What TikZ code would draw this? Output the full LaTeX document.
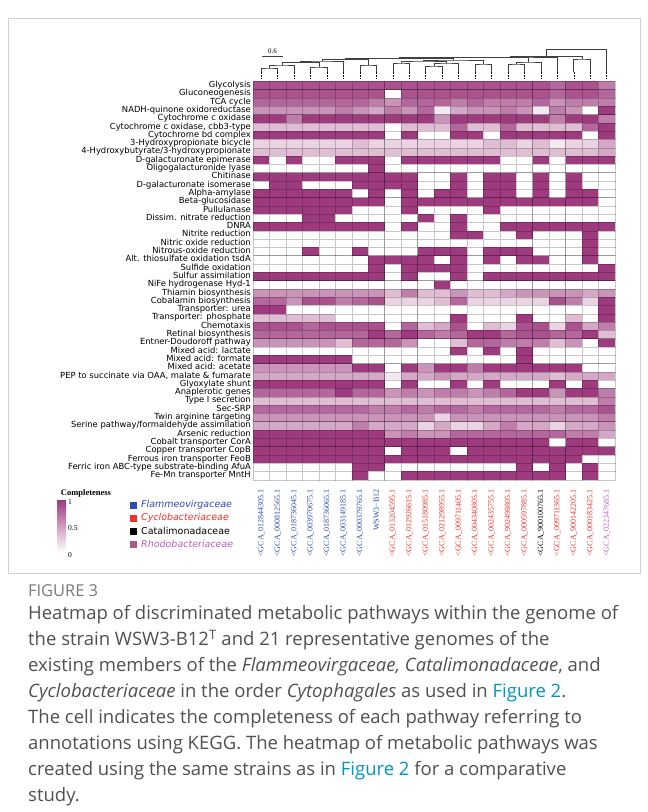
\documentclass[tikz,border=0pt]{standalone}
\usepackage{fontspec}
\setmainfont{Liberation Serif}
\setsansfont{DejaVu Sans}
\newfontfamily\capfont{Open Sans}
\usetikzlibrary{positioning}

\definecolor{heat}{RGB}{158,58,126}
\definecolor{flamblue}{RGB}{45,75,185}
\definecolor{cycred}{RGB}{238,50,40}
\definecolor{rhodo}{RGB}{185,95,185}
\definecolor{capgray}{RGB}{80,80,80}
\definecolor{figgray}{RGB}{120,120,120}
\definecolor{linkteal}{RGB}{0,150,195}

\begin{document}
\begin{tikzpicture}[x=1pt, y=-1pt,
    rowlab/.style={anchor=east, inner sep=0pt, text height=6pt, text depth=1.8pt,
      font=\sffamily\fontsize{8.4}{9}\selectfont},
    collab/.style={anchor=east, rotate=90, inner sep=0pt, font=\fontsize{8}{8}\selectfont},
    cell/.style={draw=black, draw opacity=0.22, line width=0.35pt},
    leafline/.style={densely dotted, line width=0.5pt},
    treeline/.style={line width=0.6pt, black!75},
    famlab/.style={anchor=west, inner sep=0pt, font=\sffamily\fontsize{9.5}{10}\selectfont},
    ticklab/.style={anchor=west, inner sep=0pt, font=\fontsize{7.5}{8}\selectfont}]

    \useasboundingbox (0,0) rectangle (648,812);
    \draw [black!18, line width=0.6pt] (8,18) rectangle (640,573);

    % heatmap rows: name / completeness (0 = empty ... 9 = complete)
    \foreach \name/\vals [count=\r] in {
      {Glycolysis}/{8,8,8,8,8,8,8,8,8,8,8,8,8,8,8,8,8,8,7,8,8,6},
      {Gluconeogenesis}/{8,8,8,8,8,8,8,8,0,8,8,8,8,8,8,8,8,8,7,8,8,7},
      {TCA cycle}/{7,7,7,7,7,7,7,6,5,7,7,7,6,7,6,6,6,7,5,6,6,6},
      {NADH-quinone oxidoreductase}/{5,5,5,5,5,6,5,4,6,5,7,1,4,5,5,6,5,1,6,5,0,9},
      {Cytochrome c oxidase}/{9,9,6,9,9,9,9,9,9,9,9,5,9,9,9,9,9,9,6,9,9,6},
      {Cytochrome c oxidase, cbb3-type}/{3,3,3,3,3,3,3,3,0,3,3,3,7,3,3,7,3,3,3,3,7,9},
      {Cytochrome bd complex}/{9,9,9,9,9,9,9,9,0,9,0,0,9,9,0,9,9,9,9,9,0,9},
      {3-Hydroxypropionate bicycle}/{2,2,2,2,2,2,3,2,2,2,2,2,2,2,3,3,2,3,1,2,2,4},
      {4-Hydroxybutyrate/3-hydroxypropionate}/{3,3,3,3,3,3,3,3,3,3,3,3,3,3,3,3,3,3,3,3,3,4},
      {D-galacturonate epimerase}/{9,0,9,0,0,9,9,9,0,9,9,9,9,9,9,0,0,9,0,9,9,9},
      {Oligogalacturonide lyase}/{0,0,0,0,0,0,0,9,0,0,0,0,0,0,0,0,0,0,0,0,0,0},
      {Chitinase}/{9,9,9,9,9,9,9,9,9,9,0,0,9,0,9,9,0,9,0,9,0,0},
      {D-galacturonate isomerase}/{0,9,9,0,0,0,9,9,9,9,0,0,9,0,9,9,0,9,0,9,0,0},
      {Alpha-amylase}/{9,9,9,9,9,9,0,9,0,9,0,9,9,0,9,9,0,9,0,9,9,0},
      {Beta-glucosidase}/{9,9,9,9,9,9,9,9,0,9,9,9,9,9,9,9,9,9,9,9,9,0},
      {Pullulanase}/{9,9,9,9,9,9,0,0,0,9,0,0,0,0,9,0,0,0,0,0,0,0},
      {Dissim. nitrate reduction}/{0,0,0,9,9,0,0,0,0,0,9,0,9,0,0,0,0,0,0,0,0,0},
      {DNRA}/{9,9,9,9,9,9,9,9,0,9,0,0,9,0,0,9,9,9,9,9,9,9},
      {Nitrite reduction}/{0,0,0,0,0,0,0,0,0,0,0,0,9,9,0,0,9,0,0,0,9,0},
      {Nitric oxide reduction}/{0,0,0,0,0,0,0,0,0,0,0,0,0,0,0,0,0,0,0,0,9,0},
      {Nitrous-oxide reduction}/{0,0,0,9,0,0,9,0,0,0,9,9,9,0,9,9,9,0,0,0,9,0},
      {Alt. thiosulfate oxidation tsdA}/{0,0,0,0,0,0,0,9,9,9,9,0,9,0,9,0,9,9,0,0,9,0},
      {Sulfide oxidation}/{0,0,0,0,0,0,0,9,0,9,9,9,9,0,0,0,0,0,0,0,0,9},
      {Sulfur assimilation}/{9,9,9,9,9,9,9,9,0,9,0,0,9,0,9,9,9,9,9,9,9,9},
      {NiFe hydrogenase Hyd-1}/{0,0,0,0,0,0,0,0,0,0,0,9,0,0,0,0,0,0,0,0,0,0},
      {Thiamin biosynthesis}/{5,5,5,5,5,5,5,5,3,6,3,3,5,3,3,4,5,5,5,5,4,5},
      {Cobalamin biosynthesis}/{7,7,5,8,8,6,7,8,2,2,2,3,7,2,2,2,2,2,8,6,2,9},
      {Transporter: urea}/{9,9,0,0,0,0,0,0,0,0,0,0,0,0,0,0,0,0,0,0,0,9},
      {Transporter: phosphate}/{3,3,3,3,3,0,0,0,0,0,0,0,9,0,0,0,9,0,0,3,0,9},
      {Chemotaxis}/{8,8,8,7,8,8,8,8,0,7,3,4,8,0,3,2,8,8,2,8,4,6},
      {Retinal biosynthesis}/{7,7,7,7,7,7,7,9,7,9,7,6,7,9,9,7,8,8,7,7,9,3},
      {Entner-Doudoroff pathway}/{5,5,5,5,5,3,7,7,7,5,0,0,3,7,7,6,6,6,3,5,0,9},
      {Mixed acid: lactate}/{0,0,0,0,0,0,0,0,0,0,0,0,9,0,9,0,9,0,0,0,0,0},
      {Mixed acid: formate}/{9,9,9,9,9,9,0,0,0,0,0,0,0,0,0,0,9,0,0,0,0,0},
      {Mixed acid: acetate}/{5,5,5,5,5,5,9,9,0,9,5,9,9,6,9,9,9,9,9,9,0,0},
      {PEP to succinate via OAA, malate \& fumarate}/{4,4,4,4,4,4,4,4,1,4,4,5,4,4,4,4,4,4,3,4,4,4},
      {Glyoxylate shunt}/{9,9,9,9,9,9,9,9,0,9,0,0,9,0,9,0,0,0,9,0,9,0},
      {Anaplerotic genes}/{7,7,7,7,7,9,7,7,5,6,5,6,6,5,6,7,9,9,5,9,9,6},
      {Type I secretion}/{3,3,3,3,3,3,3,3,3,3,3,3,3,3,3,3,3,3,3,3,3,6},
      {Sec-SRP}/{7,7,7,7,7,7,7,6,6,7,6,7,7,6,7,7,7,7,6,7,7,8},
      {Twin arginine targeting}/{5,5,5,5,5,5,5,5,5,5,5,2,5,5,5,5,5,5,5,5,5,6},
      {Serine pathway/formaldehyde assimilation}/{4,4,4,4,4,4,6,4,4,4,2,4,2,2,4,6,4,4,2,4,4,5},
      {Arsenic reduction}/{9,9,9,9,9,9,9,9,5,6,5,5,7,7,7,7,7,7,7,6,6,4},
      {Cobalt transporter CorA}/{9,9,9,9,9,9,9,9,9,9,9,9,9,9,9,9,9,9,0,9,9,0},
      {Copper transporter CopB}/{9,9,9,9,9,9,9,9,0,9,9,9,0,9,9,9,9,9,9,9,9,9},
      {Ferrous iron transporter FeoB}/{9,9,9,9,9,9,9,9,9,9,9,9,9,9,9,9,9,9,9,9,0,0},
      {Ferric iron ABC-type substrate-binding AfuA}/{0,0,0,0,0,0,9,9,0,0,0,0,0,0,0,0,9,0,9,0,9,0},
      {Fe-Mn transporter MntH}/{0,0,0,0,0,0,9,0,0,9,9,9,9,9,9,9,9,9,9,0,9,0}}
    {
      \node (row\r) [rowlab] at (251, {77.15+8.3*\r}) {\name};
      \foreach \v [count=\c] in \vals {
        \pgfmathtruncatemacro\pc{\v*100/9}
        \filldraw [cell, fill=heat!\pc!white] ({236.55+16.45*\c}, {73+8.3*\r}) rectangle ++(16.45, 8.3);
      }
    }

    % genome labels
    \foreach \lab/\col [count=\c] in {
      {<GCA\_012844305.1}/flamblue, {<GCA\_000812565.1}/flamblue, {<GCA\_018736045.1}/flamblue,
      {<GCA\_003970675.1}/flamblue, {<GCA\_018736065.1}/flamblue, {<GCA\_003149185.1}/flamblue,
      {<GCA\_000379765.1}/flamblue, {WSW3−B12}/flamblue, {<GCA\_013204595.1}/cycred,
      {<GCA\_012926615.1}/cycred, {<GCA\_015180985.1}/cycred, {<GCA\_021298955.1}/cycred,
      {<GCA\_009711405.1}/cycred, {<GCA\_004340805.1}/cycred, {<GCA\_002435755.1}/cycred,
      {<GCA\_902498805.1}/cycred, {<GCA\_000597885.1}/cycred, {<GCA\_900100765.1}/black,
      {<GCA\_009711365.1}/cycred, {<GCA\_900142205.1}/cycred, {<GCA\_000183425.1}/cycred,
      {<GCA\_022347685.1}/rhodo}
      \node (col\c) [collab, text=\col] at ({244.775+16.45*\c}, 489) {\lab};

    % dendrogram
    \foreach \c in {1,...,22} {
      \coordinate (t\c) at ({244.775+16.45*\c}, 71.5);
      \draw [leafline] (t\c) -- ++(0, 6.5);
    }
    \coordinate (na) at (269.5, 68);
    \coordinate (nb) at (281.8, 65);
    \coordinate (nc) at (318.8, 67);
    \coordinate (nd) at (300.3, 62.5);
    \coordinate (ne) at (321.9, 61);
    \coordinate (nf) at (368.2, 65);
    \coordinate (ng) at (345.0, 59.5);
    \coordinate (nh) at (401.1, 63);
    \coordinate (ni) at (434.0, 66);
    \coordinate (nj) at (446.3, 63);
    \coordinate (nk) at (423.7, 61);
    \coordinate (nl) at (483.3, 64);
    \coordinate (nm) at (453.5, 60);
    \coordinate (nn) at (516.2, 64);
    \coordinate (no) at (528.6, 62);
    \coordinate (ns) at (399.3, 58.5);
    \coordinate (nt) at (464.0, 57.5);
    \coordinate (nu) at (510.7, 57);
    \coordinate (nv) at (582.0, 59);
    \coordinate (nw) at (546.3, 56.5);
    \coordinate (root) at (576.5, 49.5);
    \draw [treeline] (t1) |- (na) -| (t2);
    \draw [treeline] (na) |- (nb) -| (t3);
    \draw [treeline] (t4) |- (nc) -| (t5);
    \draw [treeline] (nb) |- (nd) -| (nc);
    \draw [treeline] (nd) |- (ne) -| (t6);
    \draw [treeline] (t7) |- (nf) -| (t8);
    \draw [treeline] (ne) |- (ng) -| (nf);
    \draw [treeline] (t9) |- (nh) -| (t10);
    \draw [treeline] (t11) |- (ni) -| (t12);
    \draw [treeline] (ni) |- (nj) -| (t13);
    \draw [treeline] (nh) |- (nk) -| (nj);
    \draw [treeline] (t14) |- (nl) -| (t15);
    \draw [treeline] (nk) |- (nm) -| (nl);
    \draw [treeline] (t16) |- (nn) -| (t17);
    \draw [treeline] (nn) |- (no) -| (t18);
    \draw [treeline] (ng) |- (ns) -| (nm);
    \draw [treeline] (ns) |- (nt) -| (no);
    \draw [treeline] (nt) |- (nu) -| (t19);
    \draw [treeline] (t20) |- (nv) -| (t21);
    \draw [treeline] (nu) |- (nw) -| (nv);
    \draw [treeline] (nw) |- (root) -| (t22);

    \node (scale) [inner sep=0pt, font=\fontsize{7}{8}\selectfont] at (272.5, 51) {0.6};
    \coordinate (sbl) at (262, 56);
    \coordinate (sbr) at (283, 56);
    \draw [treeline] (sbl) -- (sbr);

    % completeness legend
    \node (cmpl) [inner sep=0pt, font=\bfseries\fontsize{8.5}{9}\selectfont] at (86, 493) {Completeness};
    \shade [top color=heat, bottom color=white] (57,500) rectangle (66,552);
    \node (tick1) [ticklab] at (68, 502.5) {1};
    \node (tick05) [ticklab] at (68, 528) {0.5};
    \node (tick0) [ticklab] at (68, 555) {0};

    % families
    \fill [flamblue] (130,501.5) rectangle ++(7,7);
    \fill [cycred] (130,514.5) rectangle ++(7,7);
    \fill [black] (130,527.5) rectangle ++(7,7);
    \fill [heat!85] (130,540.5) rectangle ++(7,7);
    \node (fam1) [famlab, text=flamblue] at (141, 505) {\itshape Flammeovirgaceae};
    \node (fam2) [famlab, text=cycred] at (141, 518) {\itshape Cyclobacteriaceae};
    \node (fam3) [famlab] at (141, 531) {Catalimonadaceae};
    \node (fam4) [famlab, text=rhodo] at (141, 544) {\itshape Rhodobacteriaceae};

    % caption
    \node (fig) [anchor=west, inner sep=0pt, text=figgray, font=\capfont\fontsize{16.4}{18}\selectfont] at (28, 591) {FIGURE 3};
    \node (cap) [anchor=north west, inner sep=0pt, align=left, text=capgray,
      font=\capfont\fontsize{18.5}{26}\selectfont] at (28, 605) {%
      Heatmap of discriminated metabolic pathways within the genome of\\
      the strain WSW3-B12\textsuperscript{T} and 21 representative genomes of the\\
      existing members of the \textit{Flammeovirgaceae, Catalimonadaceae}, and\\
      \textit{Cyclobacteriaceae} in the order \textit{Cytophagales} as used in \textcolor{linkteal}{Figure 2}.\\
      The cell indicates the completeness of each pathway referring to\\
      annotations using KEGG. The heatmap of metabolic pathways was\\
      created using the same strains as in \textcolor{linkteal}{Figure 2} for a comparative\\
      study.};

\end{tikzpicture}
\end{document}
